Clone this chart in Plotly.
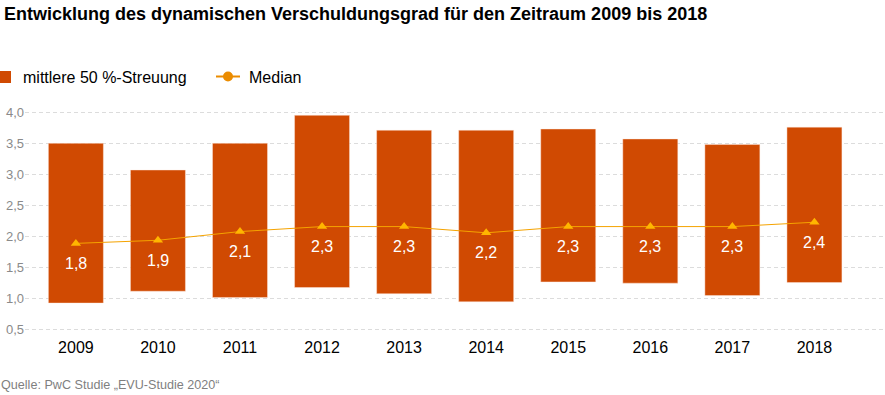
import plotly.graph_objects as go

years = ["2009", "2010", "2011", "2012", "2013", "2014", "2015", "2016", "2017", "2018"]
q_low = [0.93, 1.12, 1.02, 1.18, 1.08, 0.95, 1.27, 1.25, 1.05, 1.26]
q_high = [3.50, 3.07, 3.50, 3.95, 3.71, 3.71, 3.73, 3.57, 3.48, 3.76]
median = [1.89, 1.94, 2.08, 2.16, 2.16, 2.06, 2.16, 2.16, 2.16, 2.23]
median_labels = ["1,8", "1,9", "2,1", "2,3", "2,3", "2,2", "2,3", "2,3", "2,3", "2,4"]
y_ticks = [0.5, 1.0, 1.5, 2.0, 2.5, 3.0, 3.5, 4.0]

FONT = "Liberation Sans, Arial, Helvetica, sans-serif"
BAR = "#D04A02"
LINE = "#F5A300"
MARK = "#FFB600"
LEG_LINE = "#EB8C00"

W, H = 885, 395
ML, MR, MT, MB = 25, 0, 106, 59
PW, PH = W - ML - MR, H - MT - MB


def px(x):
    return (x - ML) / PW


def py(y):
    return (H - MB - y) / PH


fig = go.Figure()

fig.add_trace(go.Bar(
    x=years, y=[h - l for h, l in zip(q_high, q_low)], base=q_low,
    name="mittlere 50 %-Streuung",
    marker=dict(color=BAR, line=dict(color="rgba(255,235,225,0.55)", width=0.8)),
    showlegend=False,
))

fig.add_trace(go.Scatter(
    x=years, y=median, mode="lines+markers", name="Median",
    line=dict(color=LINE, width=1),
    marker=dict(symbol="triangle-up", size=9, color=MARK),
    showlegend=False,
))

for i, (y, t) in enumerate(zip(median, median_labels)):
    fig.add_annotation(x=i, y=y, xref="x", yref="y", text=t, showarrow=False,
                       yshift=-20, font=dict(family=FONT, size=16, color="white"))

# title
fig.add_annotation(
    xref="paper", yref="paper", x=px(2), y=py(14), xanchor="left", yanchor="middle",
    showarrow=False,
    text="<b>Entwicklung des dynamischen Verschuldungsgrad für den Zeitraum 2009 bis 2018</b>",
    font=dict(family=FONT, size=18, color="#000"),
)

# legend (drawn manually to match reference placement)
fig.add_shape(type="rect", xref="paper", yref="paper",
              x0=px(-1), x1=px(11), y0=py(83), y1=py(71),
              fillcolor=BAR, line=dict(width=0))
fig.add_annotation(xref="paper", yref="paper", x=px(21), y=py(77),
                   xanchor="left", yanchor="middle", showarrow=False,
                   text="mittlere 50 %-Streuung",
                   font=dict(family=FONT, size=16, color="#000"))
fig.add_shape(type="line", xref="paper", yref="paper",
              x0=px(216), x1=px(240), y0=py(76.5), y1=py(76.5),
              line=dict(color=LEG_LINE, width=2))
fig.add_shape(type="circle", xref="paper", yref="paper",
              x0=px(223), x1=px(233), y0=py(81.5), y1=py(71.5),
              fillcolor=LEG_LINE, line=dict(width=0))
fig.add_annotation(xref="paper", yref="paper", x=px(247), y=py(77),
                   xanchor="left", yanchor="middle", showarrow=False,
                   text="Median",
                   font=dict(family=FONT, size=16, color="#000"))

# source
fig.add_annotation(
    xref="paper", yref="paper", x=px(-1), y=py(385),
    xanchor="left", yanchor="middle", showarrow=False,
    text="Quelle: PwC Studie „EVU-Studie 2020“",
    font=dict(family=FONT, size=12.6, color="#7f7f7f"),
)

fig.update_layout(
    width=W, height=H,
    margin=dict(l=ML, r=MR, t=MT, b=MB, autoexpand=False),
    paper_bgcolor="white", plot_bgcolor="white",
    separators=",.",
    font=dict(family=FONT, size=16, color="#000"),
    bargap=0.33,
    showlegend=False,
    xaxis=dict(
        type="category", categoryorder="array", categoryarray=years,
        range=[-0.62, 9.86], showgrid=False, zeroline=False, showline=False,
        ticks="", automargin=False,
        tickfont=dict(family=FONT, size=16, color="#000"),
    ),
    yaxis=dict(
        range=[0.4, 4.1], tickvals=y_ticks, tickformat=".1f",
        showgrid=True, gridcolor="#dcdcdc", gridwidth=1, griddash="4px,3px",
        zeroline=False, showline=False, ticks="", automargin=False,
        tickfont=dict(family=FONT, size=13, color="#8a8a8a"),
    ),
)

fig.write_html(
    "out.html",
    config={"displayModeBar": False},
    post_script="document.body.style.margin='0';document.body.style.overflow='hidden';",
)
